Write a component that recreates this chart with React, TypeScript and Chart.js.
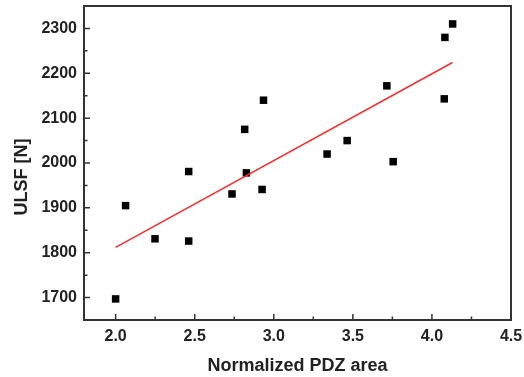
import React, { useEffect, useRef } from "react";
import { Chart, registerables } from "chart.js";

Chart.register(...registerables);

const pdzArea = [2.0, 2.063, 2.249, 2.462, 2.462, 2.736, 2.816, 2.827, 2.926, 2.935, 3.337, 3.464, 3.715, 3.755, 4.078, 4.082, 4.131];
const ulsf = [1697, 1905, 1831, 1981, 1826, 1931, 2075, 1978, 1941, 2140, 2020, 2050, 2172, 2003, 2143, 2280, 2310];
const fitX = [2.0, 4.13];
const fitY = [1812, 2224];
const xTicks = [2.0, 2.5, 3.0, 3.5, 4.0, 4.5];
const xMinorTicks = [2.25, 2.75, 3.25, 3.75, 4.25];
const yTicks = [1700, 1800, 1900, 2000, 2100, 2200, 2300];
const yMinorTicks = [1750, 1850, 1950, 2050, 2150, 2250];

const FONT = "'Liberation Sans', Arial, sans-serif";

const framePlugin = {
  id: "frame",
  afterDraw(chart: any) {
    const { ctx, chartArea } = chart;
    const xs = chart.scales.x;
    const ys = chart.scales.y;
    ctx.save();
    ctx.strokeStyle = "#333";
    ctx.lineWidth = 2;
    ctx.strokeRect(chartArea.left, chartArea.top, chartArea.right - chartArea.left, chartArea.bottom - chartArea.top);
    ctx.lineWidth = 1.5;
    ctx.beginPath();
    xTicks.forEach((v) => {
      const p = xs.getPixelForValue(v);
      ctx.moveTo(p, chartArea.bottom);
      ctx.lineTo(p, chartArea.bottom - 6);
    });
    xMinorTicks.forEach((v) => {
      const p = xs.getPixelForValue(v);
      ctx.moveTo(p, chartArea.bottom);
      ctx.lineTo(p, chartArea.bottom - 3.5);
    });
    yTicks.forEach((v) => {
      const p = ys.getPixelForValue(v);
      ctx.moveTo(chartArea.left, p);
      ctx.lineTo(chartArea.left + 6, p);
    });
    yMinorTicks.forEach((v) => {
      const p = ys.getPixelForValue(v);
      ctx.moveTo(chartArea.left, p);
      ctx.lineTo(chartArea.left + 3.5, p);
    });
    ctx.stroke();
    // y axis title
    ctx.translate(22, 177);
    ctx.rotate(-Math.PI / 2);
    ctx.fillStyle = "#222";
    ctx.font = `bold 18px ${FONT}`;
    ctx.textAlign = "center";
    ctx.textBaseline = "middle";
    ctx.fillText("ULSF [N]", 0, 0);
    ctx.restore();
  },
};

export default function App() {
  const ref = useRef<HTMLCanvasElement>(null);
  useEffect(() => {
    document.body.style.margin = "0";
    const chart = new Chart(ref.current!, {
      type: "scatter",
      data: {
        datasets: [
          {
            type: "line",
            data: fitX.map((x, i) => ({ x, y: fitY[i] })),
            borderColor: "#ff2a2a",
            borderWidth: 1.5,
            pointRadius: 0,
            fill: false,
          },
          {
            type: "scatter",
            data: pdzArea.map((x, i) => ({ x, y: ulsf[i] })),
            pointStyle: "rect",
            pointRadius: 5.3,
            backgroundColor: "#000",
            borderColor: "#000",
            borderWidth: 0,
          },
        ],
      },
      options: {
        responsive: false,
        animation: false,
        layout: { padding: { left: 0, top: 6, right: 13, bottom: 0 } },
        plugins: { legend: { display: false }, tooltip: { enabled: false } },
        scales: {
          x: {
            type: "linear",
            min: 1.8,
            max: 4.5,
            afterBuildTicks: (s: any) => {
              s.ticks = xTicks.map((v) => ({ value: v }));
            },
            afterFit: (s: any) => {
              s.height = 57;
              s.paddingLeft = 0;
              s.paddingRight = 0;
            },
            grid: { display: false, drawTicks: false },
            border: { display: false },
            ticks: {
              padding: 7,
              color: "#222",
              font: { family: FONT, size: 16, weight: "bold" },
              callback: (v: any) => Number(v).toFixed(1),
            },
            title: {
              display: true,
              text: "Normalized PDZ area",
              color: "#222",
              padding: 0,
              font: { family: FONT, size: 18, weight: "bold" },
            },
          },
          y: {
            type: "linear",
            min: 1650,
            max: 2350,
            afterBuildTicks: (s: any) => {
              s.ticks = yTicks.map((v) => ({ value: v }));
            },
            afterFit: (s: any) => {
              s.width = 84;
              s.paddingTop = 0;
              s.paddingBottom = 0;
            },
            grid: { display: false, drawTicks: false },
            border: { display: false },
            ticks: {
              padding: 7,
              color: "#222",
              font: { family: FONT, size: 16, weight: "bold" },
              callback: (v: any) => String(v),
            },
          },
        },
      },
      plugins: [framePlugin],
    } as any);
    return () => chart.destroy();
  }, []);
  return (
    <div style={{ position: "absolute", left: 0, top: 0, width: 524, height: 377, background: "#fff" }}>
      <canvas ref={ref} width={524} height={377} />
    </div>
  );
}
